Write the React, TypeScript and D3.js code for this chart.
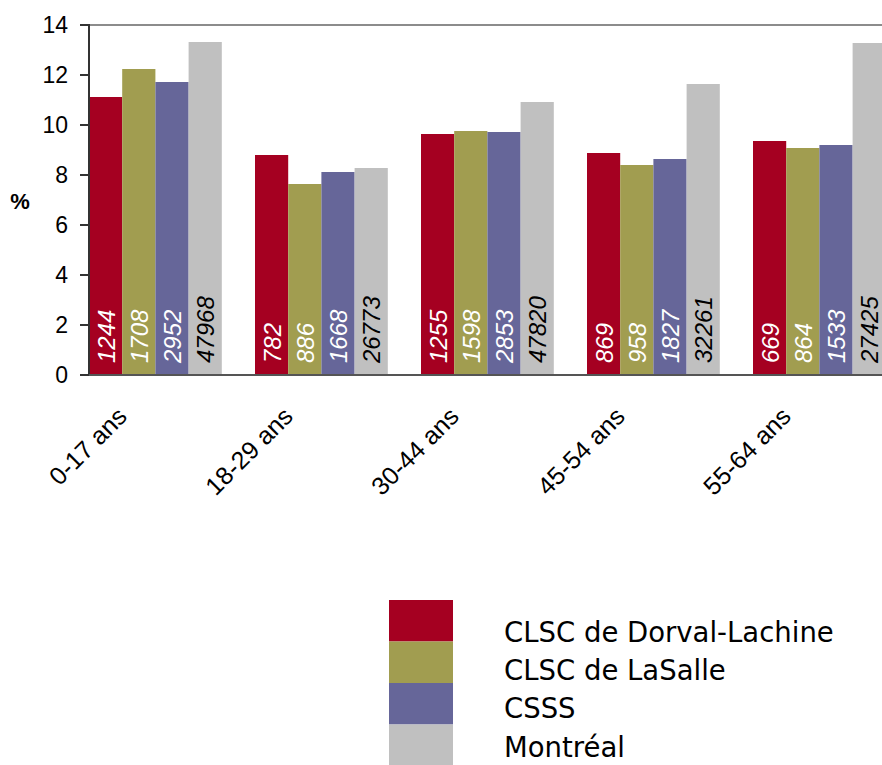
import React from "react";
import * as d3 from "d3";

const categories = ["0-17 ans", "18-29 ans", "30-44 ans", "45-54 ans", "55-64 ans"];
const seriesNames = ["CLSC de Dorval-Lachine", "CLSC de LaSalle", "CSSS", "Montréal"];
const seriesColors = ["#A50021", "#A19D50", "#666699", "#C0C0C0"];
const labelColors = ["#FFFFFF", "#FFFFFF", "#FFFFFF", "#000000"];
const dorval = [11.12, 8.8, 9.64, 8.88, 9.36];
const lasalle = [12.24, 7.64, 9.76, 8.4, 9.08];
const csss = [11.72, 8.12, 9.72, 8.64, 9.2];
const montreal = [13.32, 8.28, 10.92, 11.64, 13.28];
const countsDorval = ["1244", "782", "1255", "869", "669"];
const countsLasalle = ["1708", "886", "1598", "958", "864"];
const countsCsss = ["2952", "1668", "2853", "1827", "1533"];
const countsMontreal = ["47968", "26773", "47820", "32261", "27425"];
const yTicks = [0, 2, 4, 6, 8, 10, 12, 14];

const values = [dorval, lasalle, csss, montreal];
const counts = [countsDorval, countsLasalle, countsCsss, countsMontreal];

export default function App() {
  const W = 882, H = 765;
  const y = d3.scaleLinear().domain([0, 14]).range([375, 25]);
  const x0 = d3.scaleBand<string>().domain(categories).range([89, 919]).padding(0);
  const x1 = d3.scaleBand<string>().domain(seriesNames).range([0, x0.bandwidth() * 0.8]).padding(0);
  const legY = d3.scaleBand<string>().domain(seriesNames).range([600, 766]).padding(0);
  const legTextY = [642, 680, 718, 757];
  const font = "Arial, 'Liberation Sans', sans-serif";

  return (
    <svg width={W} height={H} style={{ position: "absolute", left: 0, top: 0, background: "#fff" }} fontFamily={font}>
      <rect x={0} y={0} width={W} height={H} fill="#fff" />
      {/* top border line */}
      <line x1={89} x2={W} y1={y(14)} y2={y(14)} stroke="#8c8c8c" strokeWidth={2} />
      {/* bars */}
      {categories.map((c, ci) => (
        <g key={c}>
          {seriesNames.map((s, si) => {
            const bx = (x0(c) as number) + (x1(s) as number);
            const bw = x1.bandwidth();
            const v = values[si][ci];
            return (
              <g key={s}>
                <rect x={bx} y={y(v)} width={bw} height={y(0) - y(v)} fill={seriesColors[si]} />
                <text
                  transform={`translate(${bx + bw / 2 + 9},${y(0) - 12}) rotate(-90)`}
                  fontSize={24}
                  fontStyle="italic"
                  fill={labelColors[si]}
                  textAnchor="start"
                >
                  {counts[si][ci]}
                </text>
              </g>
            );
          })}
        </g>
      ))}
      {/* y axis */}
      <line x1={89} x2={89} y1={y(14) - 1} y2={y(0)} stroke="#333" strokeWidth={2} />
      <line x1={80} x2={W} y1={y(0)} y2={y(0)} stroke="#555" strokeWidth={2} />
      {yTicks.map((t) => (
        <g key={t}>
          <line x1={80} x2={89} y1={y(t)} y2={y(t)} stroke="#333" strokeWidth={2} />
          <text x={68} y={y(t)} dy="0.35em" textAnchor="end" fontSize={23} fill="#000">
            {t}
          </text>
        </g>
      ))}
      <text x={20} y={209} textAnchor="middle" fontSize={22} fontWeight="bold" fill="#000">
        %
      </text>
      {/* x labels */}
      {categories.map((c) => {
        const cx = (x0(c) as number) + x0.bandwidth() * 0.4;
        return (
          <text
            key={c}
            transform={`translate(${cx - 27},${418}) rotate(-45)`}
            textAnchor="end"
            fontSize={25}
            fill="#000"
          >
            {c}
          </text>
        );
      })}
      {/* legend */}
      {seriesNames.map((s, i) => (
        <g key={s}>
          <rect x={389} y={legY(s)} width={64} height={legY.bandwidth()} fill={seriesColors[i]} />
          <text x={504} y={legTextY[i]} fontSize={27.5} fontFamily="'DejaVu Sans', Verdana, sans-serif" fill="#000">
            {s}
          </text>
        </g>
      ))}
    </svg>
  );
}
